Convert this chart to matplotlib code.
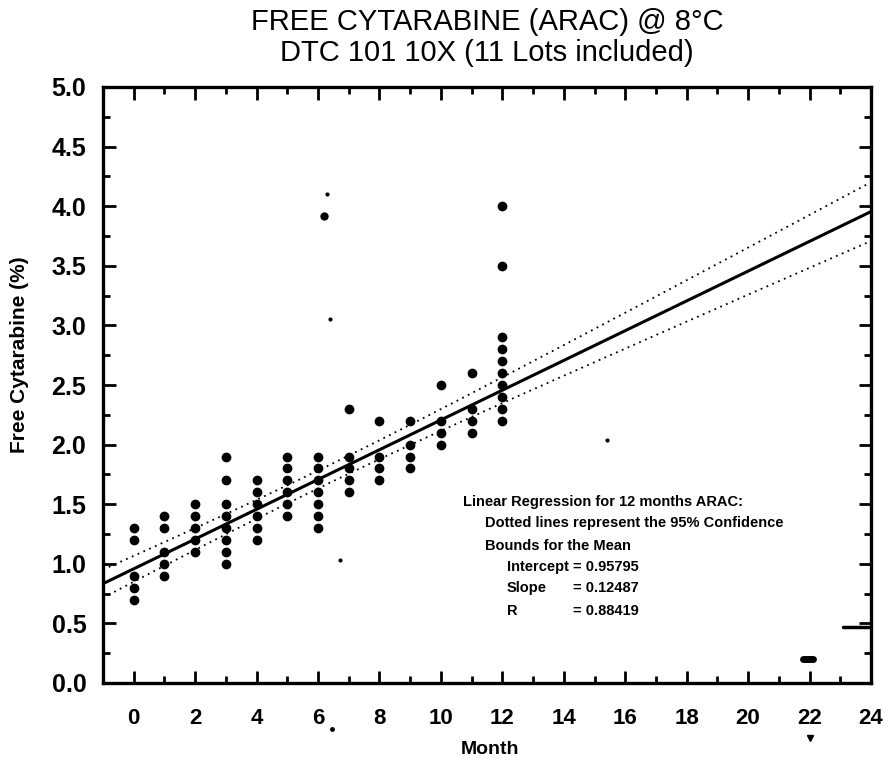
import numpy as np
import matplotlib
matplotlib.use("Agg")
import matplotlib.pyplot as plt
from matplotlib.ticker import MultipleLocator

# ---- data ----
months = [0, 1, 2, 3, 4, 5, 6, 7, 8, 9, 10, 11, 12]
values_by_month = [
    [1.3, 1.2, 0.9, 0.8, 0.7],
    [1.4, 1.3, 1.1, 1.0, 0.9],
    [1.5, 1.4, 1.3, 1.2, 1.1],
    [1.9, 1.7, 1.5, 1.4, 1.3, 1.2, 1.1, 1.0],
    [1.7, 1.6, 1.5, 1.4, 1.3, 1.2],
    [1.9, 1.8, 1.7, 1.6, 1.5, 1.4],
    [1.9, 1.8, 1.7, 1.6, 1.5, 1.4, 1.3],
    [2.3, 1.9, 1.8, 1.7, 1.6],
    [2.2, 1.9, 1.8, 1.7],
    [2.2, 2.0, 1.9, 1.8],
    [2.5, 2.2, 2.1, 2.0],
    [2.6, 2.3, 2.2, 2.1],
    [4.0, 3.5, 2.9, 2.8, 2.7, 2.6, 2.5, 2.4, 2.3, 2.2],
]
outlier_x = [6.2]
outlier_y = [3.92]
speck_x = [6.3, 6.4, 6.7, 15.4]
speck_y = [4.1, 3.05, 1.03, 2.04]

intercept = 0.95795
slope = 0.12487
r_value = 0.88419
ci_center_x = 6.0
ci_halfwidth_center = 0.075
ci_growth = 0.00017

x_ticks = [0, 2, 4, 6, 8, 10, 12, 14, 16, 18, 20, 22, 24]
y_ticks = [0.0, 0.5, 1.0, 1.5, 2.0, 2.5, 3.0, 3.5, 4.0, 4.5, 5.0]

plt.rcParams['font.family'] = ['Liberation Sans', 'DejaVu Sans']

fig = plt.figure(figsize=(8.9, 7.65), dpi=100)
ax = fig.add_axes([103/890, 1-683/765, (871-103)/890, (683-87)/765])

# scatter points
xs = [m for m, vals in zip(months, values_by_month) for _ in vals]
ys = [v for vals in values_by_month for v in vals]
ax.plot(xs, ys, 'o', color='black', ms=6, zorder=3)
ax.plot(outlier_x, outlier_y, 'o', color='black', ms=5, zorder=3)
ax.plot(speck_x, speck_y, 'o', color='black', ms=2, zorder=3)

# regression and confidence bands
xl = np.linspace(-1, 24, 200)
yl = intercept + slope * xl
hw = np.sqrt(ci_halfwidth_center**2 + ci_growth * (xl - ci_center_x)**2)
ax.plot(xl, yl, color='black', lw=2.2, zorder=2)
ax.plot(xl, yl + hw, color='black', lw=1.3, ls=(0, (1, 2.5)), zorder=2)
ax.plot(xl, yl - hw, color='black', lw=1.3, ls=(0, (1, 2.5)), zorder=2)

# scan artefacts near the lower right
ax.plot([21.8, 22.1], [0.2, 0.2], color='black', lw=5, solid_capstyle='round')
ax.plot([23.1, 24.0], [0.47, 0.47], color='black', lw=2.5, solid_capstyle='round')
ax.plot([22.0], [-0.46], marker='v', color='black', ms=5, clip_on=False)
ax.plot([6.45], [-0.39], marker='o', color='black', ms=2.5, clip_on=False)

ax.set_xlim(-1, 24)
ax.set_ylim(0, 5)
ax.set_xticks(x_ticks)
ax.set_yticks(y_ticks)
ax.set_xticklabels([str(t) for t in x_ticks], fontsize=16, fontweight='bold')
ax.set_yticklabels([f"{t:.1f}" for t in y_ticks], fontsize=18, fontweight='bold')
ax.xaxis.set_minor_locator(MultipleLocator(1))
ax.yaxis.set_minor_locator(MultipleLocator(0.25))
ax.tick_params(which='both', direction='in', top=True, right=True, width=2)
ax.tick_params(which='major', length=9)
ax.tick_params(which='minor', length=5)
ax.tick_params(axis='x', which='major', pad=18)
ax.tick_params(axis='y', which='major', pad=12)
for s in ax.spines.values():
    s.set_linewidth(2.4)

fig.text(0.5 * (103 + 871) / 890, 1 - 22/765, "FREE CYTARABINE (ARAC) @ 8°C",
         ha='center', va='center', fontsize=21)
fig.text(0.5 * (103 + 871) / 890, 1 - 53/765, "DTC 101 10X (11 Lots included)",
         ha='center', va='center', fontsize=21)
fig.text(20/890, 1 - 355/765, "Free Cytarabine (%)", rotation=90,
         ha='center', va='center', fontsize=15, fontweight='bold')
fig.text(490/890, 1 - 750/765, "Month", ha='center', va='center',
         fontsize=14, fontweight='bold')

# annotation
fs = 10.5
def t(xp, yp, s):
    fig.text(xp/890, 1 - yp/765, s, ha='left', va='center', fontsize=fs,
             fontweight='bold')
t(463, 502, "Linear Regression for 12 months ARAC:")
t(485, 523, "Dotted lines represent the 95% Confidence")
t(485, 546, "Bounds for the Mean")
t(507, 567, f"Intercept = {intercept:.5f}")
t(507, 588, "Slope")
t(573, 588, f"= {slope:.5f}")
t(507, 611, "R")
t(573, 611, f"= {r_value:.5f}")

fig.savefig("out.png", dpi=100)
